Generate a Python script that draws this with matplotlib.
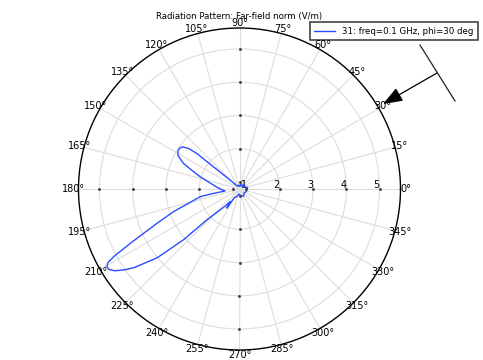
import numpy as np
import matplotlib
matplotlib.use("Agg")
import matplotlib.pyplot as plt
import matplotlib.transforms as mtransforms

# far-field norm (angle in deg, value in V/m)
angle_deg = [0, 10, 20, 30, 45, 60, 75, 90, 105, 120, 128, 133, 136.5,
             139.6, 140.2, 141.5, 143.5, 145.9, 148.5, 151.3, 153.2, 155.3,
             158, 162.7, 168.5, 177.3, 187.9,
             189.6, 191, 196.1, 198.9, 202.5, 206.4, 208.2, 209.2, 210.3,
             211.6, 213.3, 215.0, 216.7, 219.9, 222.2, 223.4, 225.9, 231.3,
             233, 236.5, 239, 250, 265, 280, 300, 320, 340, 360]
norm = [1.01, 1.04, 0.97, 0.91, 0.99, 0.89, 0.94, 0.87, 0.91, 0.89, 0.91,
        0.99, 1.18, 1.82, 2.45, 2.75, 2.92, 2.97, 2.96, 2.90, 2.78, 2.65,
        2.38, 2.03, 1.69, 1.43, 1.23,
        1.59, 1.99, 2.43, 2.88, 3.46, 4.44, 5.06, 5.32, 5.41,
        5.40, 5.27, 5.03, 4.75, 4.01, 3.06, 2.14, 1.77, 1.40,
        1.26, 1.48, 1.09, 1.04, 0.94, 0.99, 1.04, 0.97, 1.01, 1.01]

r_ticks = [1, 2, 3, 4, 5]
r_min, r_max = 0.79, 5.63
series_label = "31: freq=0.1 GHz, phi=30 deg"
title = "Radiation Pattern: Far-field norm (V/m)"

line_color = "#2b4cff"

fig = plt.figure(figsize=(4.83, 3.6), dpi=100)
ax = fig.add_axes([78 / 483, 10 / 360, 323 / 483, 322 / 360], projection="polar")

theta = np.deg2rad(angle_deg)
ax.plot(theta, norm, color=line_color, lw=1.0, label=series_label)

ax.set_rlim(r_min, r_max)
ax.set_rticks(r_ticks)
ax.set_yticklabels([str(t) for t in r_ticks], fontsize=7)
ax.set_rlabel_position(0)
# nudge the radial labels a little left/down like the reference
shift = mtransforms.ScaledTranslation(-0.06, -0.015, fig.dpi_scale_trans)
for tk in ax.yaxis.get_major_ticks():
    tk.label1.set_transform(tk.label1.get_transform() + shift)

ax.set_thetagrids(np.arange(0, 360, 15), [f"{a}°" for a in range(0, 360, 15)],
                  fontsize=7)
ax.tick_params(axis="x", pad=-7)
ax.grid(color="#dddddd", lw=0.8)
ax.spines["polar"].set_linewidth(1.0)

# small dots where the radial ticks meet the main axes
for a in [0, 90, 180, 270]:
    ax.plot(np.full(len(r_ticks), np.deg2rad(a)), r_ticks, ls="none",
            marker="o", ms=1.1, color="#444444")

fig.text(239.5 / 483, 1 - 16 / 360, title, ha="center", va="center", fontsize=6.2)

leg = fig.legend(loc="upper right", bbox_to_anchor=(478 / 483, 1 - 22 / 360),
                 fontsize=6.2, fancybox=False, borderpad=0.55,
                 handlelength=2.4, borderaxespad=0)
leg.get_frame().set_edgecolor("black")
leg.get_frame().set_linewidth(1.1)

# direction marker (phi=30 deg)
fig.add_artist(plt.Line2D([420 / 483, 455 / 483], [1 - 45 / 360, 1 - 101 / 360],
                          transform=fig.transFigure, color="#222222", lw=0.9))
ax.annotate("", xy=(383 / 483, 1 - 104 / 360), xycoords="figure fraction",
            xytext=(437 / 483, 1 - 73 / 360), textcoords="figure fraction",
            arrowprops=dict(arrowstyle="-|>,head_length=1.2,head_width=0.45",
                            color="black", lw=0.9, shrinkA=0, shrinkB=0))

fig.savefig("out.png", dpi=100)
